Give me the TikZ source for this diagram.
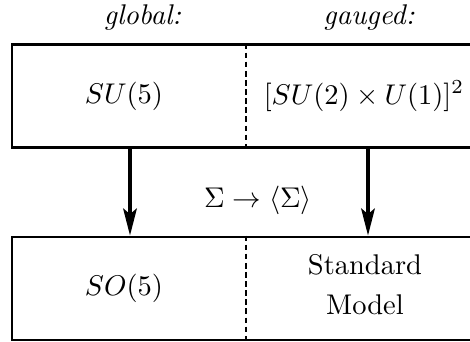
\documentclass[tikz,border=0pt]{standalone}
\usetikzlibrary{arrows.meta}
\begin{document}
\begin{tikzpicture}[x=0.351pt,y=-0.351pt,
  groupbox/.style={draw,line width=1.05pt,rectangle,inner sep=0pt,minimum width=468*0.351pt,minimum height=103*0.351pt},
  divider/.style={dashed,line width=0.6pt,dash pattern=on 2pt off 1.2pt},
  breakarrow/.style={line width=1.1pt,-{Stealth[length=9.5pt,width=4.8pt,inset=2pt]}},
  txt/.style={inner sep=0pt}]
\useasboundingbox (0,0) rectangle (470,342);
\node[groupbox] (top) at (246,96.5) {};
\node[groupbox] (bot) at (246,288.5) {};
\draw[divider] (top.north) -- (top.south);
\draw[divider] (bot.north) -- (bot.south);
\node[txt] (glob) at (142.5,18) {\itshape global:};
\node[txt] (gaug) at (369,18) {\itshape gauged:};
\node[txt] (su5) at (124,96) {$SU(5)$};
\node[txt] (sm2) at (364,96) {$[SU(2)\times U(1)]^2$};
\node[txt] (so5) at (124,288) {$SO(5)$};
\node[txt,align=center] (sm) at (365,285) {Standard\\[2pt]Model};
\node[txt] (brk) at (258,200) {$\Sigma\to\langle\Sigma\rangle$};
\coordinate (la) at (130,148);
\coordinate (ra) at (368,148);
\draw[breakarrow] (la) -- (la |- bot.north);
\draw[breakarrow] (ra) -- (ra |- bot.north);
\end{tikzpicture}
\end{document}
